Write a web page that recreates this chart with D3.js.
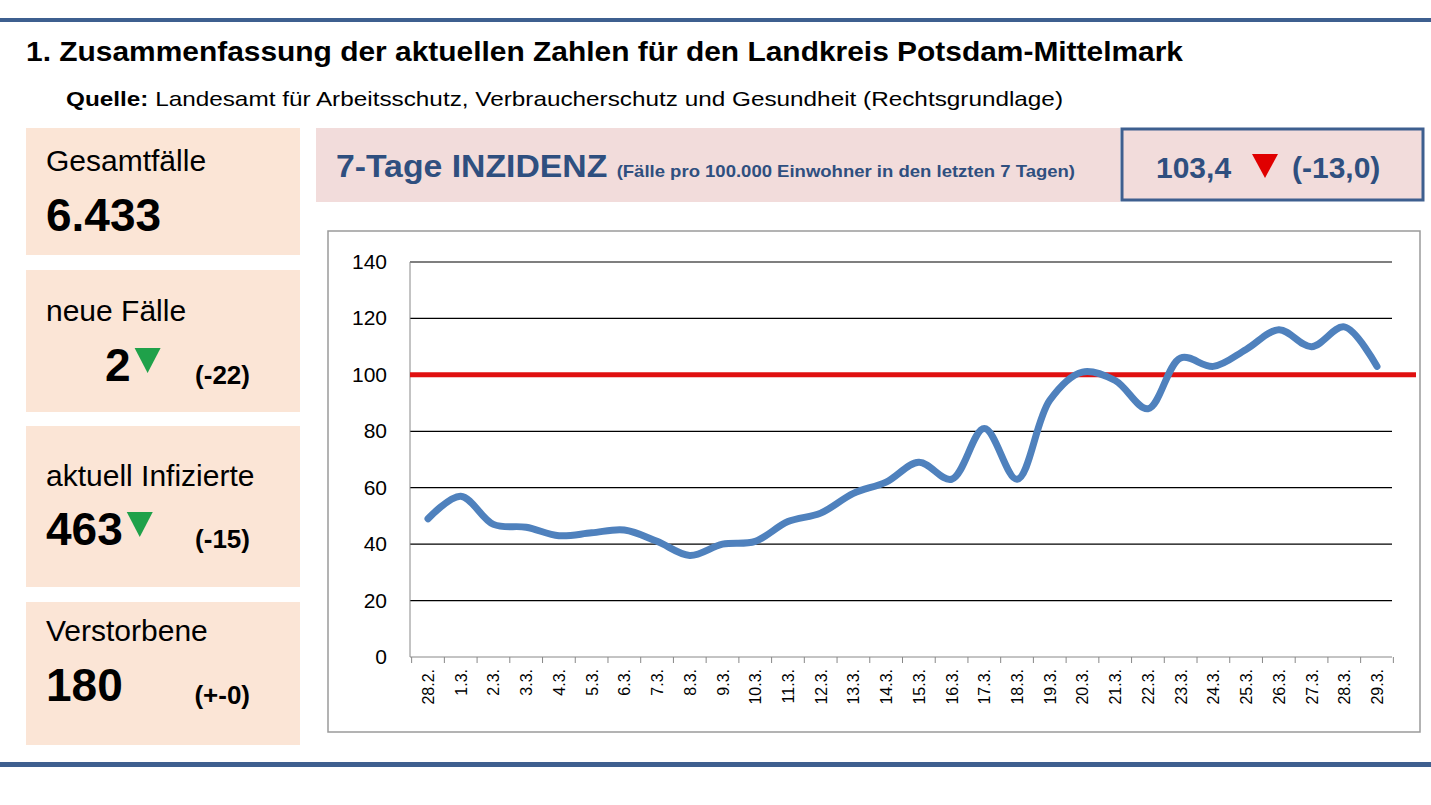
<!DOCTYPE html>
<html><head><meta charset="utf-8">
<script src="https://cdn.jsdelivr.net/npm/d3@7/dist/d3.min.js"></script>
<style>body{margin:0;background:#fff;font-family:"Liberation Sans",Arial,sans-serif}</style>
</head><body><svg id="c" width="1431" height="805"></svg>
<script>
const dates=["28.2.","1.3.","2.3.","3.3.","4.3.","5.3.","6.3.","7.3.","8.3.","9.3.","10.3.","11.3.","12.3.","13.3.","14.3.","15.3.","16.3.","17.3.","18.3.","19.3.","20.3.","21.3.","22.3.","23.3.","24.3.","25.3.","26.3.","27.3.","28.3.","29.3."];
const incidence=[49,57,47,46,43,44,45,41,36,40,41,48,51,58,62,69,63,81,63,91,101,98,88,106,103,109,116,110,117,103];
const yTicks=[0,20,40,60,80,100,120,140];
const threshold=100;

const svg=d3.select("#c");
const blue="#3E5F8F";
svg.append("rect").attr("x",0).attr("y",18).attr("width",1431).attr("height",4).attr("fill",blue);
svg.append("rect").attr("x",0).attr("y",762).attr("width",1431).attr("height",5).attr("fill",blue);
svg.append("text").attr("x",26).attr("y",61).attr("font-size",28).attr("font-weight","bold").attr("textLength",1157).attr("lengthAdjust","spacingAndGlyphs").text("1.  Zusammenfassung der aktuellen Zahlen für den Landkreis Potsdam-Mittelmark");
const q=svg.append("text").attr("x",66).attr("y",106).attr("font-size",21).attr("textLength",997).attr("lengthAdjust","spacingAndGlyphs");
q.append("tspan").attr("font-weight","bold").text("Quelle: ");
q.append("tspan").text("Landesamt für Arbeitsschutz, Verbraucherschutz und Gesundheit (Rechtsgrundlage)");

const boxes=[
 {y:128,h:127,label:"Gesamtfälle",val:"6.433",vx:46,tri:null,delta:""},
 {y:270,h:142,label:"neue Fälle",val:"2",vx:105,tri:"down",delta:"(-22)"},
 {y:426,h:161,label:"aktuell Infizierte",val:"463",vx:46,tri:"down",delta:"(-15)"},
 {y:602,h:143,label:"Verstorbene",val:"180",vx:46,tri:null,delta:"(+-0)"}];
boxes.forEach((b,i)=>{
 svg.append("rect").attr("x",26).attr("y",b.y).attr("width",274).attr("height",b.h).attr("fill","#FBE5D6");
 const ly=[43,51,60,39][i], vy=[103,111,119,99][i];
 svg.append("text").attr("x",46).attr("y",b.y+ly).attr("font-size",30).text(b.label);
 const t=svg.append("text").attr("x",b.vx).attr("y",b.y+vy).attr("font-size",46).attr("font-weight","bold").text(b.val);
 const w=t.node().getComputedTextLength();
 if(b.tri){const x=b.vx+w+4,yy=b.y+vy-33;svg.append("path").attr("d",`M${x},${yy}L${x+26},${yy}L${x+13},${yy+25}Z`).attr("fill","#1FA14A");}
 svg.append("text").attr("x",250).attr("y",b.y+vy+3).attr("text-anchor","end").attr("font-size",26).attr("font-weight","bold").text(b.delta);
});

svg.append("rect").attr("x",316).attr("y",128).attr("width",804).attr("height",74).attr("fill","#F2DCDB");
const h=svg.append("text").attr("x",336).attr("y",177).attr("fill","#2F4F7F").attr("font-weight","bold").attr("textLength",739).attr("lengthAdjust","spacingAndGlyphs");
h.append("tspan").attr("font-size",31).text("7-Tage INZIDENZ ");
h.append("tspan").attr("font-size",17).text("(Fälle pro 100.000 Einwohner in den letzten 7 Tagen)");
svg.append("rect").attr("x",1122).attr("y",129).attr("width",301).attr("height",71).attr("fill","#F2DCDB").attr("stroke",blue).attr("stroke-width",3);
svg.append("text").attr("x",1156).attr("y",178).attr("font-size",30).attr("font-weight","bold").attr("fill","#2F4F7F").text("103,4");
svg.append("path").attr("d","M1252,154L1278,154L1265,178Z").attr("fill","#E00000");
svg.append("text").attr("x",1292).attr("y",178).attr("font-size",30).attr("font-weight","bold").attr("fill","#2F4F7F").text("(-13,0)");

svg.append("rect").attr("x",328).attr("y",231).attr("width",1092).attr("height",501).attr("fill","#fff").attr("stroke","#9a9a9a").attr("stroke-width",1.5);
const x=d3.scalePoint().domain(dates).range([428,1377]);
const y=d3.scaleLinear().domain([0,140]).range([657,262]);
const g=svg.append("g");
yTicks.forEach(t=>{
 if(t>0)g.append("line").attr("x1",410).attr("x2",1392).attr("y1",y(t)).attr("y2",y(t)).attr("stroke","#000").attr("stroke-width",1.2);
 g.append("text").attr("x",387).attr("y",y(t)+7).attr("text-anchor","end").attr("font-size",21).text(t);
});
g.append("line").attr("x1",410).attr("x2",1392).attr("y1",y(0)).attr("y2",y(0)).attr("stroke","#888");
g.append("line").attr("x1",410).attr("x2",410).attr("y1",y(0)).attr("y2",y(140)).attr("stroke","#888");
const step=x.step();
for(let i=0;i<=dates.length;i++){const xx=428-step/2+i*step;g.append("line").attr("x1",xx).attr("x2",xx).attr("y1",y(0)).attr("y2",y(0)+6).attr("stroke","#888");}
dates.forEach(d=>g.append("text").attr("transform",`translate(${x(d)+6},${y(0)+12}) rotate(-90)`).attr("text-anchor","end").attr("font-size",16).text(d));
g.append("line").attr("x1",410).attr("x2",1416).attr("y1",y(threshold)).attr("y2",y(threshold)).attr("stroke","#E01010").attr("stroke-width",5);
g.append("path").datum(incidence).attr("fill","none").attr("stroke","#4F81BD").attr("stroke-width",7).attr("stroke-linecap","round")
 .attr("d",d3.line().x((d,i)=>x(dates[i])).y(d=>y(d)).curve(d3.curveCatmullRom.alpha(0.5)));
</script></body></html>
